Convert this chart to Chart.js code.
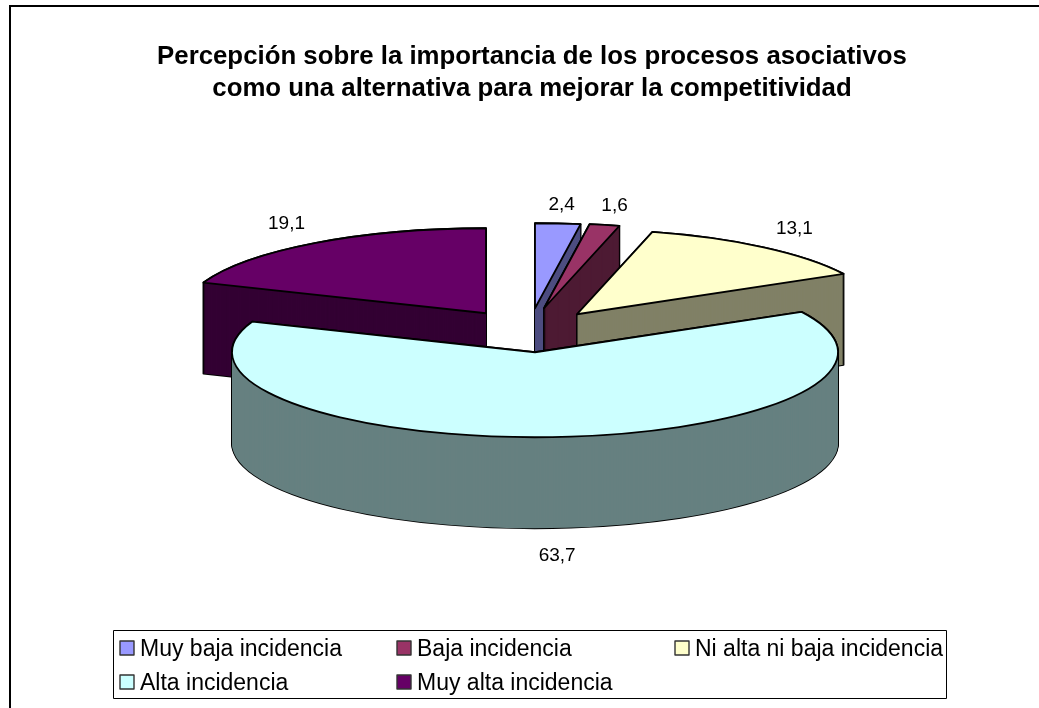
<!DOCTYPE html>
<html><head><meta charset="utf-8">
<style>html,body{margin:0;padding:0;background:#fff}#w{width:1039px;height:708px}canvas{display:block}</style>
<script src="https://cdn.jsdelivr.net/npm/chart.js@4"></script>
</head><body><div id="w"><canvas id="c" width="1039" height="708"></canvas></div>
<script>
const categories = ["Muy baja incidencia","Baja incidencia","Ni alta ni baja incidencia","Alta incidencia","Muy alta incidencia"];
const values = [2.4,1.6,13.1,63.7,19.1];
const valueLabels = ["2,4","1,6","13,1","63,7","19,1"];
const colors = ["#9999FF","#993366","#FFFFCC","#CCFFFF","#660066"];
const wallColors = ["#4D4D80","#4D1A33","#808066","#668080","#330033"];
const titleLines = ["Percepción sobre la importancia de los procesos asociativos","como una alternativa para mejorar la competitividad"];

const FONT = '"Liberation Sans", Arial, sans-serif';
const tilt = 85/303, depth = 91;
const pieDX = 3, pieDY = -43;
const explode = [[0,-44],[9,-44],[42,-38],[0,0],[-49,-39]];
const paintOrder = [4,0,1,2,3];
const legendColumns = [120,397,675], legendRows = [641,675];

const pie3d = {
  id:'pie3d',
  beforeDatasetDraw(){ return false; },
  afterDatasetsDraw(chart){
    const ctx = chart.ctx, arcs = chart.getDatasetMeta(0).data;
    const trace = (a,i,dy) => {
      const p = a.getProps(['x','y','startAngle','endAngle','outerRadius'],true);
      const cx = p.x+pieDX+explode[i][0], cy = p.y+pieDY+explode[i][1]+dy;
      ctx.beginPath();
      ctx.ellipse(cx,cy,p.outerRadius,p.outerRadius*tilt,0,p.startAngle,p.endAngle);
      ctx.lineTo(cx,cy); ctx.closePath();
    };
    ctx.save(); ctx.lineJoin='round';
    for(const i of paintOrder){
      const a = arcs[i];
      ctx.strokeStyle='#000'; ctx.lineWidth=1.8;
      for(let d=depth;d>=0;d--){ trace(a,i,d); ctx.stroke(); }
      ctx.fillStyle=wallColors[i];
      for(let d=depth;d>=0;d--){ trace(a,i,d); ctx.fill(); }
      trace(a,i,0); ctx.fillStyle=colors[i]; ctx.fill(); ctx.stroke();
    }
    // value labels
    ctx.fillStyle='#000'; ctx.font='19px '+FONT; ctx.textAlign='center'; ctx.textBaseline='middle';
    arcs.forEach((a,i)=>{
      const p=a.getProps(['x','y','startAngle','endAngle','outerRadius'],true);
      const mid=(p.startAngle+p.endAngle)/2+Math.PI/2, s=Math.sin(mid), c=Math.cos(mid);
      const cx=p.x+pieDX+explode[i][0], cy=p.y+pieDY+explode[i][1];
      const x=cx+(p.outerRadius+50)*s;
      const y= c>=0 ? cy-p.outerRadius*tilt*c-19 : cy-p.outerRadius*tilt*c+depth+28;
      ctx.fillText(valueLabels[i],x,y);
    });
    // legend
    ctx.strokeStyle='#000'; ctx.lineWidth=1; ctx.strokeRect(113.5,630.5,833,68);
    ctx.textAlign='left'; ctx.font='23px '+FONT;
    categories.forEach((t,i)=>{
      const x=legendColumns[i%3], y=legendRows[Math.floor(i/3)];
      ctx.fillStyle=colors[i]; ctx.fillRect(x,y,14,14);
      ctx.strokeStyle='#333'; ctx.lineWidth=1.4; ctx.strokeRect(x,y,14,14);
      ctx.fillStyle='#000'; ctx.fillText(t,x+20,y+9);
    });
    ctx.restore();
  }
};
const frame = {
  id:'frame',
  beforeDraw(chart){
    const ctx=chart.ctx; ctx.save(); ctx.strokeStyle='#000'; ctx.lineWidth=2;
    ctx.beginPath(); ctx.moveTo(10,708); ctx.lineTo(10,6); ctx.lineTo(1039,6); ctx.stroke(); ctx.restore();
  }
};
new Chart(document.getElementById('c'),{
  type:'pie',
  data:{labels:categories,datasets:[{data:values,backgroundColor:colors,borderColor:'#000',borderWidth:1.5}]},
  options:{
    responsive:false,animation:false,radius:303,
    layout:{padding:{left:60,right:35,top:30,bottom:30}},
    plugins:{
      legend:{display:false},tooltip:{enabled:false},
      title:{display:true,text:titleLines,color:'#000',font:{family:FONT,size:25.8,weight:'bold',lineHeight:1.25},padding:{top:11,bottom:7}}
    }
  },
  plugins:[frame,pie3d]
});
</script></body></html>
